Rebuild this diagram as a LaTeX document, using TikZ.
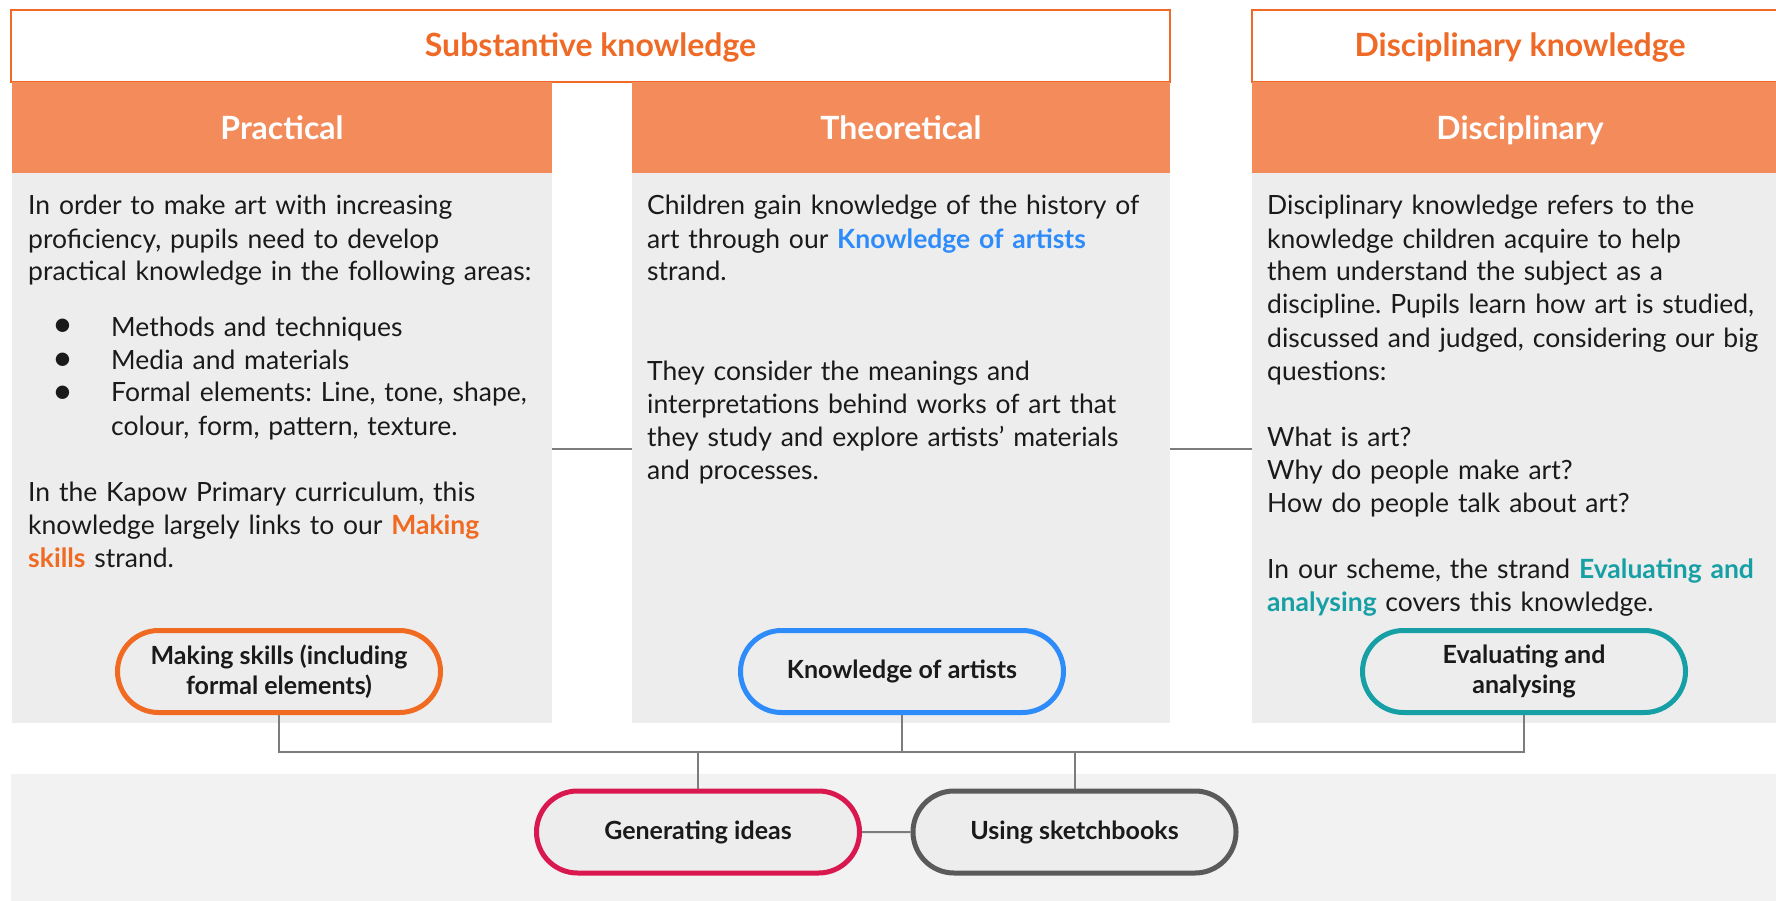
\documentclass[tikz,border=0pt]{standalone}
\usepackage{fontspec}
\setmainfont{Lato}
\usetikzlibrary{shapes.misc,positioning}

\definecolor{kapoworange}{HTML}{EF6A27}
\definecolor{headfill}{HTML}{F38B5B}
\definecolor{bodyfill}{HTML}{EDEDED}
\definecolor{bandfill}{HTML}{F2F2F2}
\definecolor{linkgray}{HTML}{7C7C7C}
\definecolor{textdark}{HTML}{1A1A1A}
\definecolor{makeorange}{HTML}{F06A22}
\definecolor{artblue}{HTML}{2E8CFA}
\definecolor{artteal}{HTML}{16A0A6}
\definecolor{ideared}{HTML}{D8184F}
\definecolor{bookgray}{HTML}{5A5A5A}

\newcommand\bulitem{\hspace*{24pt}\makebox[59pt][l]{\raisebox{-1pt}{\fontsize{36}{33}\selectfont\textbullet}}}

\tikzset{
  titlebox/.style={draw=kapoworange, line width=1.5pt, fill=white, inner sep=0pt,
    minimum height=72pt, text height=28pt, text depth=6pt, text=kapoworange,
    font=\fontsize{32}{36}\selectfont\bfseries},
  headbox/.style={fill=headfill, inner sep=0pt, outer sep=0pt, minimum width=540pt,
    minimum height=91pt, text height=30pt, text depth=6pt, text=white,
    font=\fontsize{32}{36}\selectfont\bfseries},
  bodybox/.style={fill=bodyfill, inner sep=0pt, outer sep=0pt, minimum width=540pt,
    minimum height=550pt},
  bodytext/.style={anchor=base west, inner sep=0pt, text width=530pt, align=left,
    text=textdark, font=\fontsize{26.5}{33}\selectfont\frenchspacing},
  strand/.style={rounded rectangle, line width=5pt, fill=bodyfill, minimum width=323pt,
    minimum height=82pt, inner sep=0pt, align=center, text=textdark,
    font=\fontsize{25}{30}\selectfont\bfseries},
  link/.style={draw=linkgray, line width=2pt}
}

\begin{document}
\begin{tikzpicture}[x=1pt, y=-1pt]
  \useasboundingbox (0,0) rectangle (1776,901);
  \clip (0,0) rectangle (1776,901);

  % headings
  \node[titlebox, minimum width=1159pt] (subst) at (590.5,46) {Substantive knowledge};
  \node[titlebox, minimum width=536pt]  (discip) at (1520,46) {Disciplinary knowledge};

  % columns
  \node[headbox] (prachead) at (282,127.5) {Practical};
  \node[headbox, minimum width=538pt] (theohead) at (901,127.5) {Theoretical};
  \node[headbox, minimum width=536pt] (dischead) at (1520,127.5) {Disciplinary};
  \node[bodybox, below=0pt of prachead] (pracbody) {};
  \node[bodybox, minimum width=538pt, below=0pt of theohead] (theobody) {};
  \node[bodybox, minimum width=536pt, below=0pt of dischead] (disbody) {};

  \draw[link] (pracbody.east |- 0,449) -- (theobody.west |- 0,449);
  \draw[link] (theobody.east |- 0,449) -- (disbody.west |- 0,449);

  \node[bodytext] (practxt) at (28,215) {In order to make art with increasing\\
    proficiency, pupils need to develop\\
    practical knowledge in the following areas:\\[22pt]
    \bulitem Methods and techniques\\
    \bulitem Media and materials\\
    \bulitem Formal elements: Line, tone, shape,\\
    \hspace*{83pt}colour, form, pattern, texture.\\[33pt]
    In the Kapow Primary curriculum, this\\
    knowledge largely links to our \textcolor{makeorange}{\bfseries Making}\\
    \textcolor{makeorange}{\bfseries skills} strand.};

  \node[bodytext] (theotxt) at (647,215) {Children gain knowledge of the history of\\
    art through our \textcolor{artblue}{\bfseries Knowledge of artists}\\
    strand.\\[66pt]
    They consider the meanings and\\
    interpretations behind works of art that\\
    they study and explore artists’ materials\\
    and processes.};

  \node[bodytext] (distxt) at (1267,215) {Disciplinary knowledge refers to the\\
    knowledge children acquire to help\\
    them understand the subject as a\\
    discipline. Pupils learn how art is studied,\\
    discussed and judged, considering our big\\
    questions:\\[33pt]
    What is art?\\
    Why do people make art?\\
    How do people talk about art?\\[33pt]
    In our scheme, the strand \textcolor{artteal}{\bfseries Evaluating and}\\
    \textcolor{artteal}{\bfseries analysing} covers this knowledge.};

  % strands
  \node[fill=bandfill, inner sep=0pt, minimum width=1777pt, minimum height=127pt] (band) at (899.5,837.5) {};
  \node[strand, draw=makeorange] (mk) at (279,671.5) {Making skills (including\\formal elements)};
  \node[strand, draw=artblue]    (ka) at (902,671.5) {Knowledge of artists};
  \node[strand, draw=artteal]    (ev) at (1524,671.5) {Evaluating and\\analysing};
  \node[strand, draw=ideared]    (gi) at (698,832) {Generating ideas};
  \node[strand, draw=bookgray]   (us) at (1074.5,832) {Using sketchbooks};

  \coordinate (bus) at (0,752);
  \draw[link] (mk.south) |- (bus -| ev.south) -- (ev.south);
  \draw[link] (ka.south) -- (ka.south |- bus);
  \draw[link] (gi.north) -- (gi.north |- bus);
  \draw[link] (us.north) -- (us.north |- bus);
  \draw[link] (gi) -- (us);
\end{tikzpicture}
\end{document}
